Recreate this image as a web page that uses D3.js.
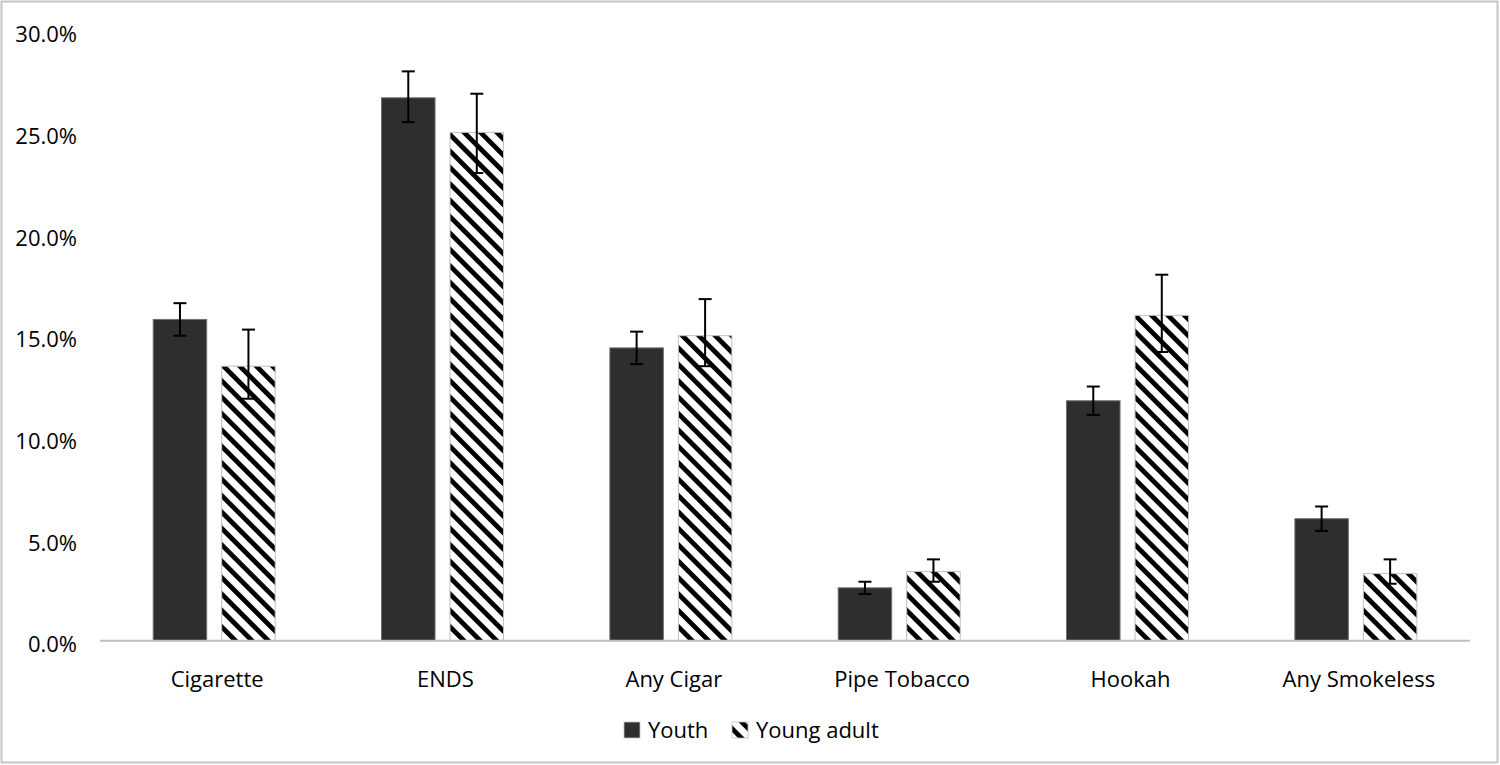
<!DOCTYPE html>
<html>
<head>
<meta charset="utf-8">
<script src="https://cdn.jsdelivr.net/npm/d3@7"></script>
<style>
  html, body { margin: 0; padding: 0; background: #fff; }
  svg { display: block; font-family: "Open Sans", sans-serif; }
</style>
</head>
<body>
<svg id="chart" width="1500" height="765"></svg>
<script>
// ---- data ----
const categories = ["Cigarette", "ENDS", "Any Cigar", "Pipe Tobacco", "Hookah", "Any Smokeless"];
const seriesNames = ["Youth", "Young adult"];
const youth      = [15.8, 26.7, 14.4, 2.6, 11.8, 6.0];
const youthLow   = [15.0, 25.5, 13.6, 2.3, 11.1, 5.4];
const youthHigh  = [16.6, 28.0, 15.2, 2.9, 12.5, 6.6];
const youngAdult     = [13.5, 25.0, 15.0, 3.4, 16.0, 3.3];
const youngAdultLow  = [11.9, 23.0, 13.5, 2.9, 14.2, 2.8];
const youngAdultHigh = [15.3, 26.9, 16.8, 4.0, 18.0, 4.0];
const yTicks = [0, 5, 10, 15, 20, 25, 30];

const svg = d3.select("#chart");
const defs = svg.append("defs");
const pat = defs.append("pattern")
  .attr("id", "hatch")
  .attr("patternUnits", "userSpaceOnUse")
  .attr("width", 11.6).attr("height", 11.6)
  .attr("patternTransform", "rotate(-45)");
pat.append("rect").attr("width", 11.6).attr("height", 11.6).attr("fill", "#fff");
pat.append("rect").attr("x", 0).attr("width", 4.8).attr("height", 11.6).attr("fill", "#000");

// border
svg.append("rect").attr("x", 1.5).attr("y", 1.5).attr("width", 1496).attr("height", 761)
  .attr("fill", "#fff").attr("stroke", "#c6c6c6").attr("stroke-width", 2);

const x0 = d3.scaleBand().domain(categories).range([100, 1470]).padding(0);
const x1 = d3.scaleBand().domain(seriesNames).range([53.2, 175.2]).paddingInner(0.219).paddingOuter(0);
const y = d3.scaleLinear().domain([0, 30]).range([640.7, 30.7]);

// y labels
const fmt = d3.format(".1%");
svg.append("g").selectAll("text").data(yTicks).join("text")
  .attr("x", 77).attr("y", d => y(d) + 11.7)
  .attr("text-anchor", "end")
  .attr("font-size", 22).attr("fill", "#000")
  .text(d => fmt(d / 100));

// data rows
const rows = categories.map((c, i) => ({
  cat: c,
  vals: [
    { s: "Youth", v: youth[i], lo: youthLow[i], hi: youthHigh[i] },
    { s: "Young adult", v: youngAdult[i], lo: youngAdultLow[i], hi: youngAdultHigh[i] }
  ]
}));

const groups = svg.append("g").selectAll("g").data(rows).join("g")
  .attr("transform", d => `translate(${x0(d.cat)},0)`);

groups.selectAll("rect").data(d => d.vals).join("rect")
  .attr("x", d => x1(d.s))
  .attr("y", d => y(d.v))
  .attr("width", x1.bandwidth())
  .attr("height", d => y(0) - y(d.v))
  .attr("fill", d => d.s === "Youth" ? "#2e2e2e" : "url(#hatch)")
  .attr("stroke", d => d.s === "Youth" ? "#707070" : "#c0c0c0")
  .attr("stroke-width", 1);

// axis line
svg.append("line").attr("x1", 100).attr("x2", 1470)
  .attr("y1", y(0)).attr("y2", y(0))
  .attr("stroke", "#bfbfbf").attr("stroke-width", 2);

// error bars
const eb = groups.selectAll("g.eb").data(d => d.vals).join("g").attr("class", "eb")
  .attr("stroke", "#000").attr("stroke-width", 2);
const cx = d => x1(d.s) + x1.bandwidth() / 2;
eb.append("line").attr("x1", cx).attr("x2", cx).attr("y1", d => y(d.lo)).attr("y2", d => y(d.hi));
eb.append("line").attr("x1", d => cx(d) - 6.5).attr("x2", d => cx(d) + 6.5).attr("y1", d => y(d.lo)).attr("y2", d => y(d.lo));
eb.append("line").attr("x1", d => cx(d) - 6.5).attr("x2", d => cx(d) + 6.5).attr("y1", d => y(d.hi)).attr("y2", d => y(d.hi));

// category labels
svg.append("g").selectAll("text").data(categories).join("text")
  .attr("x", d => x0(d) + x0.bandwidth() / 2 + 3)
  .attr("y", 687)
  .attr("text-anchor", "middle")
  .attr("font-size", 22).attr("fill", "#000")
  .text(d => d);

// legend
const leg = svg.append("g");
const legItems = [
  { name: "Youth", fill: "#2e2e2e", x: 624 },
  { name: "Young adult", fill: "url(#hatch)", x: 732 }
];
leg.selectAll("rect").data(legItems).join("rect")
  .attr("x", d => d.x).attr("y", 722).attr("width", 16).attr("height", 16)
  .attr("fill", d => d.fill).attr("stroke", "#c0c0c0").attr("stroke-width", 0.8);
leg.selectAll("text").data(legItems).join("text")
  .attr("x", d => d.x + 24).attr("y", 738)
  .attr("font-size", 22).attr("fill", "#000")
  .text(d => d.name);
</script>
</body>
</html>
